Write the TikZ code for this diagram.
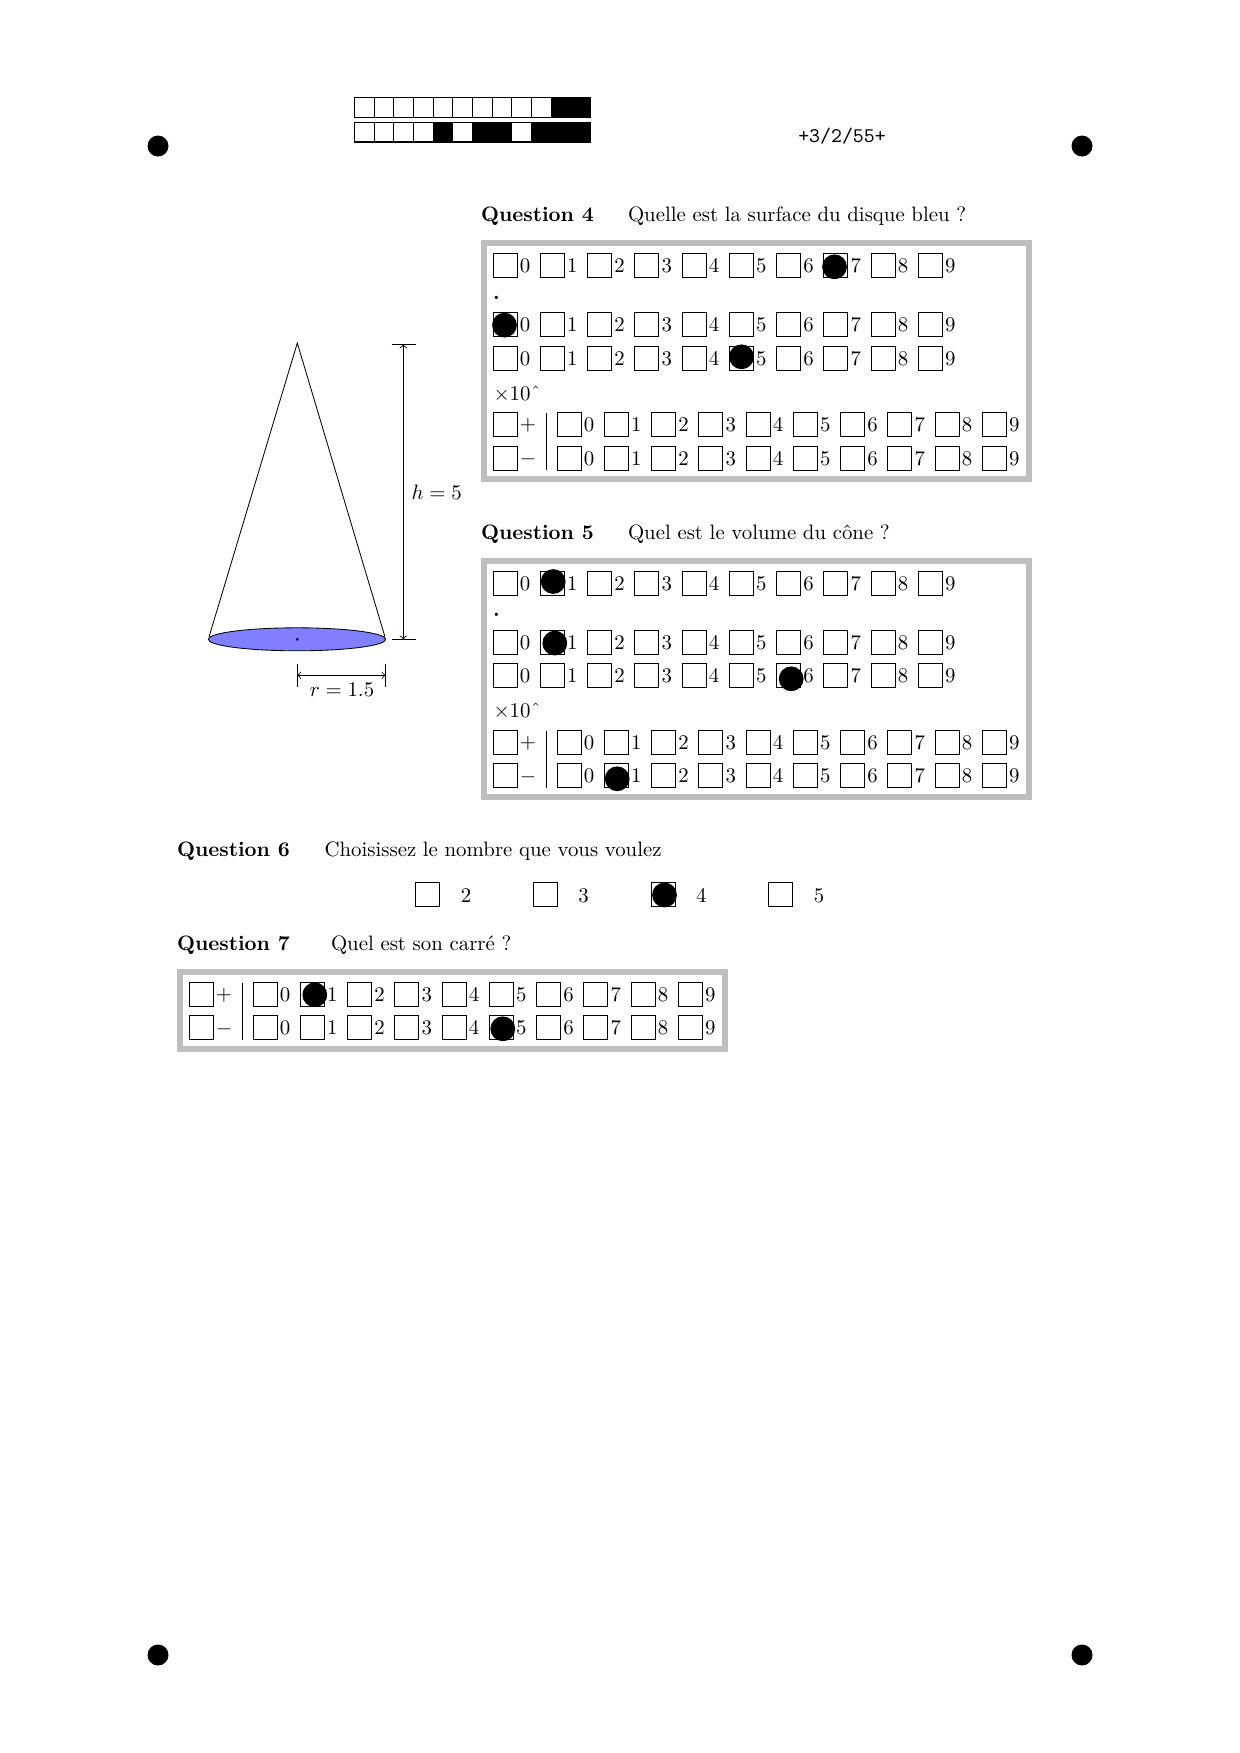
\documentclass[tikz,border=0pt]{standalone}
\usepackage{fontspec}
\newcommand{\tightsp}{\spaceskip=3.2pt\relax}
\tikzset{
  x=0.48pt,y=-0.48pt,
  chkbox/.style={draw=black,line width=0.4pt,minimum size=11.52pt,inner sep=0pt,outer sep=0pt,anchor=north west},
  txt/.style={inner sep=0pt,outer sep=0pt,anchor=base},
  txtw/.style={inner sep=0pt,outer sep=0pt,anchor=base west},
  lbl/.style={txtw,font=\tightsp},
  frm/.style={draw=black!25,line width=2.9pt,miter limit=10},
  blob/.style={fill=black,draw=none},
  edge line/.style={draw=black,line width=0.4pt},
  cell/.style={draw=black,line width=0.5pt,fill=white},
  cellb/.style={draw=black,line width=0.5pt,fill=black}
}
\newcommand{\digitrow}[3]{% name, x0, yc
  \foreach \d in {0,...,9}{
    \node[chkbox] (#1b\d) at ({#2+47.27*\d},{#3-12}) {};
    \node[txt] (#1d\d) at ({#2+47.27*\d+32},{#3+7}) {\d};
  }}
\newcommand{\signblock}[4]{% name, x0, y1, y2
  \node[chkbox] (#1p) at (#2,{#3-12}) {};
  \node[txt] (#1pl) at ({#2+35},{#3+6.5}) {$+$};
  \node[chkbox] (#1m) at (#2,{#4-12}) {};
  \node[txt] (#1mi) at ({#2+35},{#4+6.5}) {$-$};
  \coordinate (#1rt) at ({#2+53},{#3-11.5});
  \coordinate (#1rb) at ({#2+53},{#4+12});
  \draw[edge line] (#1rt) -- (#1rb);
  \digitrow{#1u}{#2+64}{#3}
  \digitrow{#1v}{#2+64}{#4}}
\newcommand{\bigblock}[2]{% name, y offset
  \begin{scope}[yshift={-0.48pt*(#2)}]
  \draw[frm] (484,243) rectangle (1029,479);
  \digitrow{#1a}{493}{265.4}
  \node[txt] (#1dot) at (496.5,299) {\textbf{.}};
  \digitrow{#1c}{493}{324.4}
  \digitrow{#1e}{493}{358}
  \node[txtw] (#1x) at (493.5,400) {$\times$10$\hat{\hbox to 5pt{\hfil}}$};
  \signblock{#1s}{493}{424.4}{458.2}
  \end{scope}}
\begin{document}
\begin{tikzpicture}
\useasboundingbox[fill=white] (0,0) rectangle (1240,1753);
% corner marks
\fill[blob] (158,146) circle (10.5);
\fill[blob] (1082,146) circle (10.5);
\fill[blob] (158,1655) circle (10.5);
\fill[blob] (1082,1655) circle (10.5);
% barcode
\foreach \i/\s in {0/cell,1/cell,2/cell,3/cell,4/cell,5/cell,6/cell,7/cell,8/cell,9/cell,10/cellb,11/cellb}{
  \path[\s] ({354.5+19.68*\i},97.5) rectangle ++(19.68,20);}
\foreach \i/\s in {0/cell,1/cell,2/cell,3/cell,4/cellb,5/cell,6/cellb,7/cellb,8/cell,9/cellb,10/cellb,11/cellb}{
  \path[\s] ({354.5+19.68*\i},122.5) rectangle ++(19.68,19.5);}
\node[txt] (id) at (842,142) {\ttfamily +3/2/55+};
% cone
\coordinate (apex) at (297.3,343);
\coordinate (bl) at (209,637);
\coordinate (br) at (385,637);
\draw[edge line] (bl) -- (apex) -- (br);
\draw[edge line,fill=blue!50] (297,639.3) ellipse [x radius=88.7,y radius=11.5];
\fill (297.3,639.3) circle (1.6);
% h dimension
\coordinate (ht) at (403.3,344.3);
\coordinate (hb) at (403.3,639.3);
\draw[edge line] (391.5,344.3) -- (415.5,344.3);
\draw[edge line] (391.5,639.3) -- (415.5,639.3);
\draw[edge line,<->] (ht) -- (hb);
\node[txtw] (hl) at (411.5,499) {$h=5$};
% r dimension
\coordinate (rl) at (297.3,675.3);
\coordinate (rr) at (385.5,675.3);
\draw[edge line] (297.3,663.5) -- (297.3,686.5);
\draw[edge line] (385.5,663.5) -- (385.5,686.5);
\draw[edge line,<->] (rl) -- (rr);
\node[txt] (rlab) at (342,696) {$r=1.5$};
% Question 4
\node[txtw] (q4) at (481,221.7) {\textbf{Question 4}};
\node[lbl] (t4) at (628,221.7) {Quelle est la surface du disque bleu ?};
\bigblock{A}{0}
\fill[blob] (834.5,266.8) circle (12.4);
\fill[blob] (504.5,325.1) circle (12.4);
\fill[blob] (741.5,356.8) circle (12.4);
% Question 5
\node[txtw] (q5) at (481,539.4) {\textbf{Question 5}};
\node[lbl] (t5) at (628,539.4) {Quel est le volume du cône ?};
\bigblock{B}{317.7}
\fill[blob] (553.2,581.5) circle (12.4);
\fill[blob] (554.8,643.1) circle (12.4);
\fill[blob] (791.2,678.8) circle (12.4);
\fill[blob] (617.2,778.8) circle (12.4);
% Question 6
\node[txtw] (q6) at (177,856) {\textbf{Question 6}};
\node[lbl] (t6) at (324.5,856) {Choisissez le nombre que vous voulez};
\foreach \i/\n in {0/2,1/3,2/4,3/5}{
  \node[chkbox] (cb\n) at ({415.7+117.7*\i},882.5) {};
  \node[txt] (cd\n) at ({466+117.7*\i},902.5) {\n};
}
\fill[blob] (664.5,895) circle (12.4);
% Question 7
\node[txtw] (q7) at (177,950) {\textbf{Question 7}};
\node[lbl] (t7) at (331,950) {Quel est son carré ?};
\draw[frm] (180,972) rectangle (725,1049);
\signblock{C}{189}{994.4}{1027.7}
\fill[blob] (314.8,994.8) circle (12.4);
\fill[blob] (502.8,1028.8) circle (12.4);
\end{tikzpicture}
\end{document}
